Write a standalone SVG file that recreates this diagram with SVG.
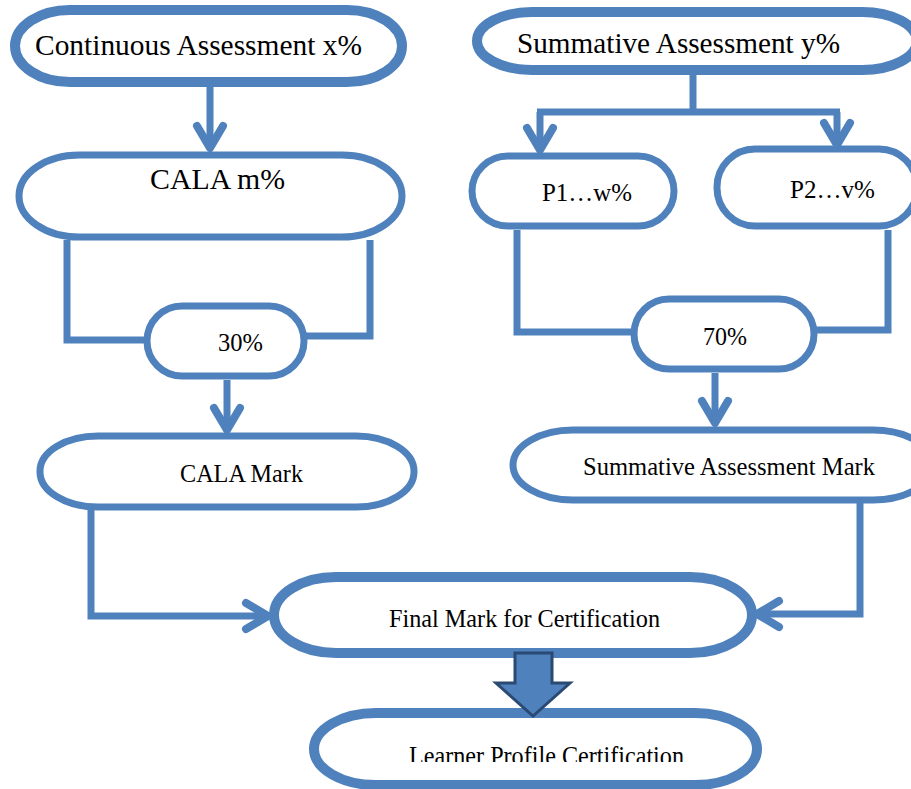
<svg xmlns="http://www.w3.org/2000/svg" width="911" height="789" viewBox="0 0 911 789">
<style>
.n{fill:#fff;stroke:#4f81bd}
.thick{stroke-width:10}
.thin{stroke-width:7}
.t{font-family:"Liberation Serif","Times New Roman",serif;fill:#000}
.c{fill:none;stroke:#4f81bd;stroke-width:7}
</style>
<defs>
<marker id="chev" markerUnits="userSpaceOnUse" viewBox="-30 -20 36 40" markerWidth="36" markerHeight="40" refX="-4" refY="0" orient="auto">
<path d="M-22,-13 L0,0 L-22,13" fill="none" stroke="#4f81bd" stroke-width="8" stroke-linecap="round" stroke-linejoin="round"/>
</marker>
<clipPath id="clipL"><rect x="0" y="0" width="911" height="762"/></clipPath>
</defs>
<rect width="911" height="789" fill="#fff"/>

<g id="n-continuous">
<rect class="n thick" x="15" y="10" width="387" height="72" rx="55" ry="36"/>
<text class="t" x="35" y="55" font-size="29" textLength="327" lengthAdjust="spacingAndGlyphs">Continuous Assessment x%</text>
</g>
<g id="n-summative">
<rect class="n thick" x="477" y="12" width="440" height="58" rx="55" ry="29"/>
<text class="t" x="517" y="53" font-size="29" textLength="323" lengthAdjust="spacingAndGlyphs">Summative Assessment y%</text>
</g>
<g id="n-cala">
<rect class="n thin" x="19" y="155" width="383" height="82" rx="60" ry="41"/>
<text class="t" x="150" y="189" font-size="29" textLength="135" lengthAdjust="spacingAndGlyphs">CALA m%</text>
</g>
<g id="n-p1">
<rect class="n thin" x="472" y="156" width="202" height="70" rx="36" ry="35"/>
<text class="t" x="542" y="201" font-size="25" textLength="90" lengthAdjust="spacingAndGlyphs">P1…w%</text>
</g>
<g id="n-p2">
<rect class="n thin" x="717" y="149" width="200" height="77" rx="38" ry="38"/>
<text class="t" x="790" y="198" font-size="25" textLength="85" lengthAdjust="spacingAndGlyphs">P2…v%</text>
</g>
<g id="n-30">
<rect class="n thin" x="147" y="306" width="157" height="70" rx="35" ry="35"/>
<text class="t" x="218" y="351" font-size="25" textLength="45" lengthAdjust="spacingAndGlyphs">30%</text>
</g>
<g id="n-70">
<rect class="n thin" x="634" y="299" width="180" height="70" rx="35" ry="35"/>
<text class="t" x="703" y="345" font-size="25" textLength="44" lengthAdjust="spacingAndGlyphs">70%</text>
</g>
<g id="n-calamark">
<rect class="n thin" x="40" y="436" width="374" height="71" rx="58" ry="35"/>
<text class="t" x="180" y="482" font-size="26" textLength="123" lengthAdjust="spacingAndGlyphs">CALA Mark</text>
</g>
<g id="n-summark">
<rect class="n thin" x="513" y="430" width="420" height="70" rx="60" ry="35"/>
<text class="t" x="583" y="475" font-size="26" textLength="292" lengthAdjust="spacingAndGlyphs">Summative Assessment Mark</text>
</g>
<g id="n-final">
<rect class="n thick" x="274" y="577" width="478" height="76" rx="62" ry="38"/>
<text class="t" x="389" y="627" font-size="26" textLength="271" lengthAdjust="spacingAndGlyphs">Final Mark for Certification</text>
</g>
<g id="n-learner">
<rect class="n thick" x="314" y="713" width="443" height="72" rx="62" ry="36"/>
<text class="t" x="409" y="765" font-size="27" textLength="275" lengthAdjust="spacingAndGlyphs" clip-path="url(#clipL)">Learner Profile Certification</text>
</g>

<g id="connectors">
<path class="c" d="M210,87 V144" marker-end="url(#chev)"/>
<path class="c" d="M693,75 V112 M537,112 H840"/>
<path class="c" d="M540,112 V146" marker-end="url(#chev)"/>
<path class="c" d="M837,112 V141" marker-end="url(#chev)"/>
<path class="c" d="M67,240 V340 H147"/>
<path class="c" d="M370,240 V336 H304"/>
<path class="c" d="M517,230 V332 H634"/>
<path class="c" d="M888,230 V330 H814"/>
<path class="c" d="M227,380 V426" marker-end="url(#chev)"/>
<path class="c" d="M715,373 V419" marker-end="url(#chev)"/>
<path class="c" d="M91,510 V616 H264" marker-end="url(#chev)"/>
<path class="c" d="M860,503 V614 H761" marker-end="url(#chev)"/>
<polygon points="515,653 552,653 552,683 570,683 533,716 496,683 515,683" fill="#4f81bd" stroke="#2a4a73" stroke-width="3" stroke-linejoin="miter"/>
</g>
</svg>
